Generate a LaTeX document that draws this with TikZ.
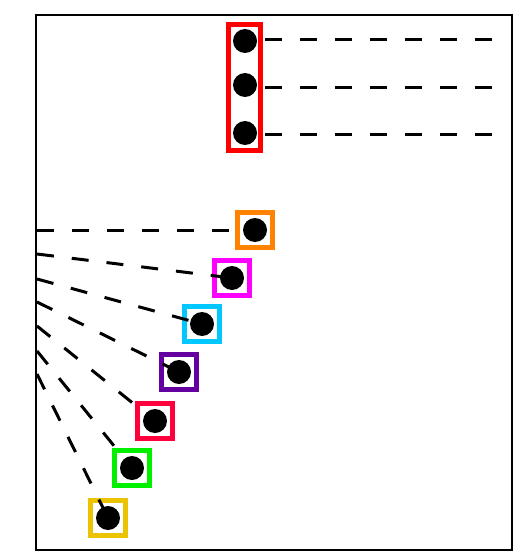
\documentclass[tikz,border=0pt]{standalone}
\usepackage{tikz}
\usetikzlibrary{positioning}
\definecolor{boxorange}{RGB}{255, 130, 0}
\definecolor{boxmagenta}{RGB}{255, 0, 255}
\definecolor{boxcyan}{RGB}{0, 200, 255}
\definecolor{boxpurple}{RGB}{100, 0, 160}
\definecolor{boxcrimson}{RGB}{255, 0, 60}
\definecolor{boxgreen}{RGB}{0, 240, 0}
\definecolor{boxyellow}{RGB}{235, 195, 0}
\definecolor{boxred}{RGB}{255, 0, 0}

\begin{document}
\begin{tikzpicture}[x=1pt, y=-1pt,
    dot/.style={circle, fill=black, inner sep=0pt, minimum size=24pt},
    cell/.style={draw=#1, line width=4.5pt, minimum size=35pt, inner sep=0pt},
    link/.style={line width=3pt, dash pattern=on 17pt off 18pt}]
    \useasboundingbox (0,0) rectangle (530,553);
    % Outer frame
    \draw[line width=2.5pt] (36,15) rectangle (512,550);
    % Top column of three
    \node[draw=boxred, line width=4.5pt, minimum width=32pt, minimum height=126pt] (column) at (244.5,87.5) {};
    \foreach \i/\y/\yy in {1/41/40, 2/85/88, 3/133/135} {
        \node[dot] (top\i) at (245,\y) {};
        \coordinate (start\i) at (265,\yy);
        \coordinate (end\i) at (497,\yy);
        \draw[link] (start\i) -- (end\i);
    }
    % Diagonal row of boxes
    \foreach \n/\x/\y/\c/\ly in {a/255/230/boxorange/230, b/232/278/boxmagenta/254,
                                 c/202/324/boxcyan/279, d/179/372/boxpurple/302,
                                 e/155/421/boxcrimson/326, f/132/468/boxgreen/351,
                                 g/108/518/boxyellow/374} {
        \node[cell=\c] (box\n) at (\x,\y) {};
        \coordinate (side\n) at (37,\ly);
        \draw[link] (side\n) -- (box\n.center);
        \node[dot] (dot\n) at (box\n) {};
    }
\end{tikzpicture}
\end{document}
